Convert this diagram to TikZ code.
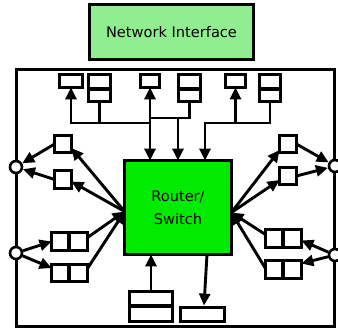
\documentclass[tikz,border=0pt]{standalone}
\usepackage{fontspec}
\setmainfont{DejaVu Sans}
\usetikzlibrary{arrows.meta,calc}
\definecolor{nigreen}{RGB}{144,238,144}
\definecolor{rtgreen}{RGB}{0,235,0}
\newcommand{\rbox}[6][]{\node[box,#1,minimum width={#4-#2-3.2},minimum height={#6-#3-3.2}] (#5) at ({(#2+#4)/2},{(#3+#6)/2}) {};}
\begin{document}
\begin{tikzpicture}[x=1pt,y=-1pt,
  box/.style={draw,line width=3.2pt,fill=white,inner sep=0pt,outer sep=0pt},
  tip/.tip={Triangle[length=12pt,width=11pt]},
  arr/.style={line width=2.9pt,-tip},
  darr/.style={line width=2.9pt,tip-tip},
  ln/.style={line width=2.9pt,line cap=rect},
  port/.style={circle,draw,line width=2.6pt,fill=white,minimum size=12pt,inner sep=0pt}]
\useasboundingbox (0,0) rectangle (338,330);
% outer frame
\draw[line width=3.2pt] (16.5,69.5) rectangle (334.5,326.5);
% network interface
\node[box,fill=nigreen,minimum width=163.8,minimum height=54.8,font=\fontsize{14.6}{17}\selectfont] (ni) at (171.5,32) {Network Interface};
% router
\node[box,fill=rtgreen,minimum width=106.8,minimum height=93.8,align=center,font=\fontsize{14.6}{23}\selectfont] (router) at (178,207.5) {Router/\\Switch};
% top boxes
\rbox{58}{73}{84}{b1}{89}
\rbox{87}{73}{112}{b2a}{90.6}
\rbox{87}{87.4}{112}{b2b}{103}
\rbox{139}{73}{161}{b3}{89}
\rbox{177}{73}{202}{b4a}{90.6}
\rbox{177}{87.4}{202}{b4b}{103}
\rbox{224}{73}{247}{b5}{89}
\rbox{258}{73}{282}{b6a}{90.6}
\rbox{258}{87.4}{282}{b6b}{103}
% left boxes
\rbox{53}{134}{73}{A}{154}
\rbox{53}{169}{73}{B}{190}
\rbox{50}{231}{70.6}{Ca}{252}
\rbox{67.4}{231}{89}{Cb}{252}
\rbox{50}{263}{70.6}{Da}{283}
\rbox{67.4}{263}{89}{Db}{283}
% right boxes
\rbox{278}{134}{298}{E}{154}
\rbox{278}{166}{298}{F}{186}
\rbox{264}{228}{284.6}{Ga}{249}
\rbox{281.4}{228}{303}{Gb}{249}
\rbox{264}{259}{284.6}{Ha}{280}
\rbox{281.4}{259}{303}{Hb}{280}
% bottom boxes
\rbox{128}{290}{174}{Ia}{307.6}
\rbox{128}{304.4}{174}{Ib}{323}
\rbox{179}{306}{226}{J}{323}
% ports
\node[port] (lc1) at (16,167) {};
\node[port] (lc2) at (16,253) {};
\node[port] (rc1) at (335,166) {};
\node[port] (rc2) at (335,255) {};
% junction levels
\coordinate (j1) at (0,123);
\coordinate (j2) at (0,118);
\coordinate (d2) at (178,118);
\coordinate (d3) at (205,123);
\coordinate (rl) at ($(router.west)+(0,4)$);
\coordinate (rr) at ($(router.east)+(0,5)$);
% top group 1
\draw[ln] (b2b.south) -- (b2b.south |- j1);
\draw[ln] (b3.south |- j2) -- (b3.south |- j1);
\draw[darr] (b1.south) -- (b1.south |- j1) -- (b3.south |- j1) -- (b3.south |- router.north);
% top group 2
\draw[arr] (b4b.south) -- (b4b.south |- j2) -- (b3.south |- j2) -- (b3.south);
\draw[arr] (d2) -- (d2 |- router.north);
% top group 3
\draw[ln] (b6b.south) -- (b6b.south |- d3) -- (b5.south |- d3);
\draw[darr] (b5.south) -- (b5.south |- d3) -- (d3) -- (d3 |- router.north);
% left
\draw[arr] (rl) -- ($(A.east)+(0,4)$);
\draw[arr] (rl) -- ($(B.east)+(0,2)$);
\draw[arr] (A.west) -- (lc1);
\draw[arr] (B.west) -- (lc1);
\draw[arr] ($(Cb.north east)+(0,5)$) -- (rl);
\draw[arr] ($(Db.north east)+(0,4)$) -- (rl);
\draw[arr] (lc2) -- (Ca.west);
\draw[arr] (lc2) -- ($(Da.west)+(0,-5)$);
% right
\draw[arr] (rr) -- ($(E.west)+(0,6)$);
\draw[arr] (rr) -- ($(F.west)+(0,4)$);
\draw[arr] (E.east) -- (rc1);
\draw[arr] (F.east) -- (rc1);
\draw[arr] ($(Ga.north west)+(0,5)$) -- (rr);
\draw[arr] ($(Ha.north west)+(0,8)$) -- (rr);
\draw[arr] (rc2) -- ($(Gb.east)+(0,2)$);
\draw[arr] (rc2) -- ($(Hb.east)+(0,-6)$);
% bottom
\draw[arr] (Ia.north) -- (Ia.north |- router.south);
\draw[arr] ($(router.south)+(29,0)$) -- ($(J.north)+(1.5,-2)$);
\end{tikzpicture}
\end{document}
